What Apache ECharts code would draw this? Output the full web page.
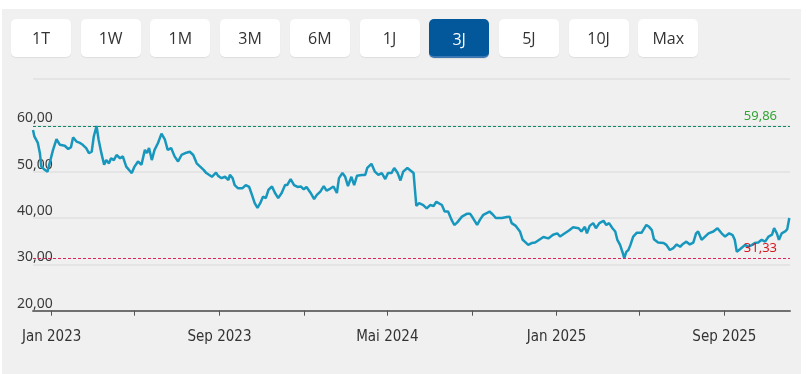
<!DOCTYPE html>
<html>
<head>
<meta charset="utf-8">
<script src="https://cdn.jsdelivr.net/npm/echarts@6/dist/echarts.min.js"></script>
<style>
  html, body { margin: 0; padding: 0; background: #ffffff; width: 807px; height: 374px; overflow: hidden; }
  #panel { position: absolute; left: 2px; top: 9px; width: 799px; height: 365px; background: #f0f0f0; }
  #chart { position: absolute; left: 0; top: 0; width: 807px; height: 374px; }
  .btn { position: absolute; top: 19px; width: 60px; height: 38px; background: #ffffff; border-radius: 5px;
         box-shadow: 0 1px 1px rgba(0,0,0,0.08); font-family: "Open Sans", "Noto Sans", sans-serif; font-size: 16px;
         color: #333; display: flex; align-items: center; justify-content: center; z-index: 2; box-sizing: border-box; }
  .btn.active { background: #03579b; color: #ffffff; border-bottom: 2px solid #3b78b3; height: 39px; padding-top: 2px; }
</style>
</head>
<body>
<div id="panel"></div>
<div id="chart"></div>
<div id="buttons"></div>
<script>
// ---- data ----
const rangeButtons = ['1T', '1W', '1M', '3M', '6M', '1J', '3J', '5J', '10J', 'Max'];
const activeRange = '3J';

const axisStart = '2022-12-05';
const axisEnd = '2025-12-05';
const yTickMin = 20;
const yTickMax = 70;
const yTickStep = 10;

const tickDates = ['2023-01-01', '2023-05-01', '2023-09-01', '2024-01-01', '2024-05-01', '2024-09-01', '2025-01-01', '2025-05-01', '2025-09-01'];
const labelDates = ['2023-01-01', '2023-09-01', '2024-05-01', '2025-01-01', '2025-09-01'];
const monthNamesDE = ['Jan', 'Feb', 'Mär', 'Apr', 'Mai', 'Jun', 'Jul', 'Aug', 'Sep', 'Okt', 'Nov', 'Dez'];

const highLevel = 59.86;
const lowLevel = 31.33;

const dates = [
  '2022-12-05','2022-12-07','2022-12-12','2022-12-15','2022-12-17','2022-12-22','2022-12-26','2022-12-29',
  '2023-01-03','2023-01-08','2023-01-13','2023-01-20','2023-01-25','2023-01-29',
  '2023-02-01','2023-02-06','2023-02-11','2023-02-15','2023-02-20','2023-02-24','2023-02-28',
  '2023-03-03','2023-03-07','2023-03-10','2023-03-14','2023-03-18','2023-03-21','2023-03-25','2023-03-28',
  '2023-04-01','2023-04-05','2023-04-10','2023-04-14','2023-04-19','2023-04-24','2023-04-27',
  '2023-05-01','2023-05-06','2023-05-11','2023-05-16','2023-05-19','2023-05-22','2023-05-26','2023-05-30',
  '2023-06-04','2023-06-09','2023-06-14','2023-06-18','2023-06-23','2023-06-28',
  '2023-07-03','2023-07-08','2023-07-15','2023-07-20','2023-07-25','2023-07-30',
  '2023-08-04','2023-08-09','2023-08-13','2023-08-21','2023-08-27','2023-08-30',
  '2023-09-04','2023-09-09','2023-09-14','2023-09-16','2023-09-20','2023-09-23','2023-09-28',
  '2023-10-04','2023-10-09','2023-10-14','2023-10-18','2023-10-22','2023-10-26','2023-10-30',
  '2023-11-03','2023-11-07','2023-11-11','2023-11-16','2023-11-20','2023-11-25','2023-11-30',
  '2023-12-05','2023-12-08','2023-12-13','2023-12-18','2023-12-23','2023-12-28',
  '2024-01-01','2024-01-05','2024-01-11','2024-01-16','2024-01-20','2024-01-25','2024-01-30',
  '2024-02-03','2024-02-08','2024-02-13','2024-02-18','2024-02-21','2024-02-26',
  '2024-03-01','2024-03-05','2024-03-10','2024-03-14','2024-03-18','2024-03-25','2024-03-30',
  '2024-04-02','2024-04-08','2024-04-13','2024-04-18','2024-04-23','2024-04-28',
  '2024-05-02','2024-05-07','2024-05-11','2024-05-16','2024-05-20','2024-05-24','2024-05-30',
  '2024-06-04','2024-06-08','2024-06-10','2024-06-12','2024-06-16','2024-06-22','2024-06-27',
  '2024-07-02','2024-07-07','2024-07-11','2024-07-19','2024-07-23','2024-07-28',
  '2024-08-02','2024-08-06','2024-08-10','2024-08-17','2024-08-24','2024-08-29',
  '2024-09-02','2024-09-08','2024-09-12','2024-09-17','2024-09-26',
  '2024-10-01','2024-10-05','2024-10-14','2024-10-21','2024-10-25','2024-10-28',
  '2024-11-03','2024-11-09','2024-11-13','2024-11-16','2024-11-21','2024-11-26',
  '2024-12-01','2024-12-07','2024-12-13','2024-12-20','2024-12-27',
  '2025-01-02','2025-01-06','2025-01-13','2025-01-19','2025-01-25',
  '2025-02-02','2025-02-06','2025-02-11','2025-02-14','2025-02-18','2025-02-23','2025-02-27',
  '2025-03-04','2025-03-10','2025-03-14','2025-03-18','2025-03-23','2025-03-27','2025-03-30',
  '2025-04-03','2025-04-07','2025-04-09','2025-04-12','2025-04-15','2025-04-18','2025-04-22','2025-04-27',
  '2025-05-04','2025-05-11','2025-05-15','2025-05-19','2025-05-22','2025-05-28',
  '2025-06-05','2025-06-09','2025-06-14','2025-06-19','2025-06-24','2025-06-29',
  '2025-07-03','2025-07-08','2025-07-13','2025-07-18','2025-07-22','2025-07-25','2025-07-30',
  '2025-08-04','2025-08-09','2025-08-16','2025-08-22','2025-08-28',
  '2025-09-02','2025-09-08','2025-09-13','2025-09-16','2025-09-19','2025-09-24',
  '2025-10-01','2025-10-06','2025-10-11','2025-10-15','2025-10-20','2025-10-25','2025-10-30',
  '2025-11-04','2025-11-09','2025-11-12','2025-11-16','2025-11-19','2025-11-23','2025-11-28',
  '2025-12-01','2025-12-04'
];

const prices = [
  59.0, 57.6, 56.2, 54.0, 51.1, 50.4, 50.0, 51.8,
  54.7, 57.0, 55.8, 55.6, 54.9, 55.3,
  57.4, 56.5, 56.2, 55.8, 55.1, 54.0, 54.3,
  57.6, 59.86, 56.9, 54.0, 51.5, 52.5, 51.8, 52.9,
  52.5, 53.6, 52.9, 53.3, 51.1, 50.2, 49.7,
  51.1, 52.2, 51.5, 54.7, 54.0, 55.1, 52.5, 54.7,
  56.2, 58.2, 56.9, 54.7, 55.1, 53.3,
  52.2, 53.6, 54.1, 54.3, 53.6, 51.8,
  51.1, 50.4, 49.7, 48.9, 49.8, 49.1,
  48.6, 48.9, 48.2, 49.3, 48.6, 47.1, 46.4,
  46.4, 47.1, 46.7, 45.0, 43.2, 42.2, 43.2,
  44.6, 44.3, 46.1, 46.8, 45.5, 44.3, 45.4,
  47.1, 47.1, 48.4, 47.1, 46.7, 46.8,
  46.2, 46.7, 45.4, 44.1, 45.0, 45.7, 46.9,
  45.9, 46.3, 46.8, 45.4, 48.6, 49.7,
  48.9, 46.9, 48.9, 47.1, 49.1, 49.3, 49.3,
  50.8, 51.7, 50.0, 49.3, 49.7, 48.4,
  49.7, 49.7, 50.8, 49.7, 48.1, 50.0, 50.8,
  50.2, 49.7, 46.1, 42.6, 43.2, 42.8, 42.1,
  42.8, 42.6, 43.5, 42.8, 41.4, 41.4,
  39.6, 38.5, 39.0, 40.3, 40.9, 40.9,
  40.0, 38.5, 39.6, 40.7, 41.4,
  40.7, 40.0, 40.0, 40.2, 40.3, 38.9,
  38.3, 37.1, 35.3, 34.9, 34.2, 34.6,
  34.7, 35.3, 35.9, 35.6, 36.4,
  36.7, 36.0, 36.7, 37.3, 38.0,
  37.8, 37.1, 38.1, 36.7, 38.3, 38.9, 37.8,
  38.9, 39.4, 38.5, 38.9, 37.8, 37.1, 35.3,
  34.2, 32.4, 31.33, 32.7, 33.1, 34.2, 36.0, 36.8,
  36.8, 38.5, 38.1, 37.4, 35.4, 34.7,
  34.6, 34.2, 33.1, 33.5, 34.3, 33.8,
  34.4, 34.9, 34.3, 34.7, 36.7, 37.1, 35.3,
  36.0, 36.7, 37.1, 37.8, 36.7,
  36.0, 36.7, 36.3, 35.3, 32.7, 33.3,
  34.2, 33.8, 34.2, 34.6, 34.7, 35.3, 34.9,
  36.0, 36.4, 37.8, 36.7, 35.3, 36.7, 37.1,
  37.6, 40.0
];

// ---- helpers ----
function toTs(s) {
  const p = s.split('-').map(Number);
  return new Date(p[0], p[1] - 1, p[2]).getTime();
}
function deNum(v) { return v.toFixed(2).replace('.', ','); }

// ---- buttons ----
const btnWrap = document.getElementById('buttons');
rangeButtons.forEach(function (label, i) {
  const b = document.createElement('div');
  b.className = 'btn' + (label === activeRange ? ' active' : '');
  b.style.left = (11 + i * 69.7) + 'px';
  b.textContent = label;
  btnWrap.appendChild(b);
});

// ---- chart ----
const chart = echarts.init(document.getElementById('chart'));
const seriesData = dates.map(function (d, i) { return [toTs(d), prices[i]]; });

chart.setOption({
  animation: false,
  backgroundColor: 'transparent',
  grid: { left: 33, right: 17, top: 79, bottom: 63.3 },
  xAxis: {
    type: 'value',
    min: toTs(axisStart),
    max: toTs(axisEnd),
    axisLine: { show: true, lineStyle: { color: '#707070', width: 2 } },
    axisTick: { show: true, customValues: tickDates.map(toTs), length: 5, lineStyle: { color: '#555', width: 1 } },
    splitLine: { show: false },
    axisLabel: {
      customValues: labelDates.map(toTs),
      margin: 19,
      color: '#333',
      fontFamily: '"DejaVu Sans Condensed", "Liberation Sans Narrow", sans-serif',
      fontSize: 15,
      formatter: function (v) {
        const d = new Date(v);
        return monthNamesDE[d.getMonth()] + ' ' + d.getFullYear();
      }
    }
  },
  yAxis: {
    type: 'value',
    min: yTickMin,
    max: yTickMax,
    interval: yTickStep,
    axisLine: { show: false },
    axisTick: { show: false },
    splitLine: { show: true, lineStyle: { color: '#e4e4e4', width: 2 } },
    axisLabel: {
      align: 'left',
      verticalAlign: 'bottom',
      margin: 16,
      color: '#3a3a3a',
      fontFamily: '"Noto Sans", "Open Sans", sans-serif',
      fontSize: 14,
      formatter: function (v) { return v === yTickMax ? '' : deNum(v); }
    }
  },
  series: [{
    type: 'line',
    data: seriesData,
    showSymbol: false,
    symbol: 'none',
    lineStyle: { color: '#1797bd', width: 2.5 },
    z: 3,
    markLine: {
      silent: true,
      symbol: ['none', 'none'],
      z: 4,
      data: [
        {
          yAxis: highLevel,
          lineStyle: { color: '#12886a', type: [3, 2], width: 1 },
          label: { color: '#34a334' }
        },
        {
          yAxis: lowLevel,
          lineStyle: { color: '#e0215a', type: [3, 2], width: 1 },
          label: { color: '#d9141e' }
        }
      ],
      label: {
        show: true,
        position: 'insideEndTop',
        distance: [13, 3],
        fontFamily: '"Noto Sans", "Open Sans", sans-serif',
        fontSize: 13,
        formatter: function (p) { return deNum(p.value); }
      }
    }
  }]
});
</script>
</body>
</html>
